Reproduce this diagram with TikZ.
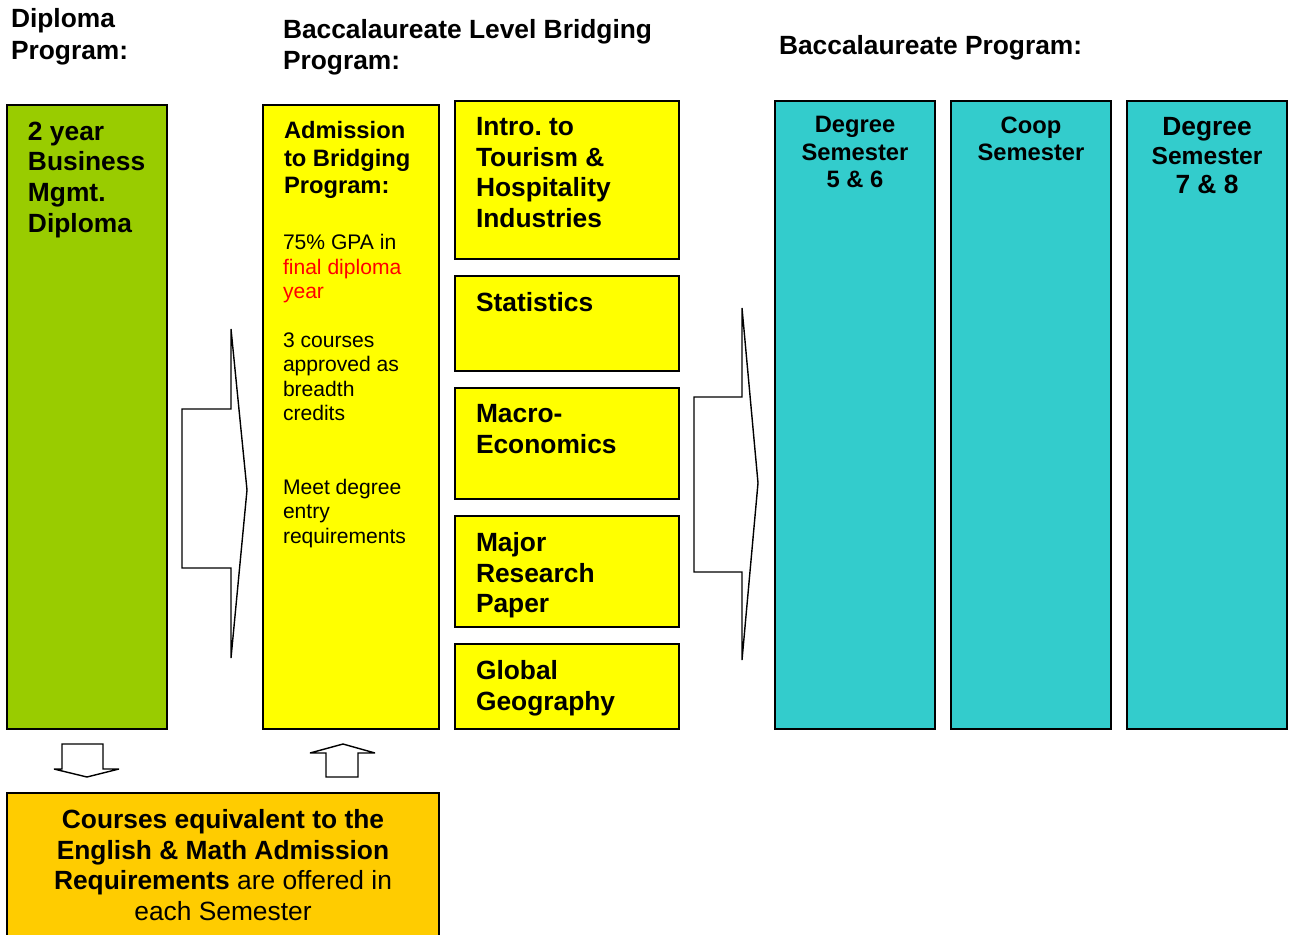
\documentclass[tikz,border=0pt]{standalone}
\usepackage{fontspec}
\setmainfont{Liberation Sans}
\usepackage{xcolor}
\usepackage{tikz}
\usetikzlibrary{positioning}

\definecolor{diplomagreen}{HTML}{99CC00}
\definecolor{bridgeyellow}{HTML}{FFFF00}
\definecolor{degreeteal}{HTML}{33CCCC}
\definecolor{courseorange}{HTML}{FFCC00}

\newcommand{\bigbf}{\fontsize{15}{17.4}\selectfont\bfseries}
\newcommand{\midbf}{\fontsize{13.5}{15.6}\selectfont\bfseries}
\newcommand{\bodytxt}{\fontsize{12}{13.9}\selectfont}

\begin{document}
\begin{tikzpicture}[x=0.02cm,y=-0.02cm]
\tikzstyle{box}=[draw=black,line width=0.8pt,inner sep=0pt,outer sep=0pt,anchor=north west]
\tikzstyle{txt}=[inner sep=0pt,outer sep=0pt,anchor=north west,align=left]
\tikzstyle{ctxt}=[inner sep=0pt,outer sep=0pt,anchor=north,align=center]
\tikzstyle{blockarrow}=[draw=black,line width=0.8pt,fill=white,line join=miter,miter limit=1.5]

\useasboundingbox (0,0) rectangle (1293,934);

\node[txt,font=\fontsize{15}{18.1}\selectfont\bfseries](hdiploma) at (11,8.5){Diploma\\Program:};
\node[txt,font=\bigbf](hbridge) at (283,19.5){Baccalaureate Level Bridging\\Program:};
\node[txt,font=\bigbf](hbacc) at (779,35.5){Baccalaureate Program:};

\node[box,fill=diplomagreen,minimum width=3.2cm,minimum height=12.48cm](diploma) at (7,105){};
\node[box,fill=bridgeyellow,minimum width=3.52cm,minimum height=12.48cm](admission) at (263,105){};
\node[box,fill=bridgeyellow,minimum width=4.48cm,minimum height=3.16cm](intro) at (455,101){};
\node[box,fill=bridgeyellow,minimum width=4.48cm,minimum height=1.9cm](stats) at (455,276){};
\node[box,fill=bridgeyellow,minimum width=4.48cm,minimum height=2.22cm](macro) at (455,388){};
\node[box,fill=bridgeyellow,minimum width=4.48cm,minimum height=2.22cm](major) at (455,516){};
\node[box,fill=bridgeyellow,minimum width=4.48cm,minimum height=1.7cm](global) at (455,644){};
\node[box,fill=degreeteal,minimum width=3.2cm,minimum height=12.56cm](semfive) at (775,101){};
\node[box,fill=degreeteal,minimum width=3.2cm,minimum height=12.56cm](coop) at (951,101){};
\node[box,fill=degreeteal,minimum width=3.2cm,minimum height=12.56cm](semseven) at (1127,101){};
\node[box,fill=courseorange,minimum width=8.64cm,minimum height=3.1cm](courses) at (7,793){};

\node[txt,font=\bigbf](diplomatxt) at ([shift={(21,17)}]diploma.north west){2 year\\Business\\Mgmt.\\Diploma};
\node[txt,font=\midbf](admtitle) at ([shift={(21,16.5)}]admission.north west){Admission\\to Bridging\\Program:};
\node[txt,font=\bodytxt](admbody) at ([shift={(20,129.5)}]admission.north west){75\% GPA in\\\textcolor{red}{final diploma}\\\textcolor{red}{year}\\[13.9pt]3 courses\\approved as\\breadth\\credits\\[28pt]Meet degree\\entry\\requirements};

\node[txt,font=\bigbf](introtxt) at ([shift={(21,16.5)}]intro.north west){Intro.\ to\\Tourism \&\\Hospitality\\Industries};
\node[txt,font=\bigbf](statstxt) at ([shift={(21,16.5)}]stats.north west){Statistics};
\node[txt,font=\bigbf](macrotxt) at ([shift={(21,16.5)}]macro.north west){Macro-\\Economics};
\node[txt,font=\bigbf](majortxt) at ([shift={(21,16.5)}]major.north west){Major\\Research\\Paper};
\node[txt,font=\bigbf](globaltxt) at ([shift={(21,16.5)}]global.north west){Global\\Geography};

\node[ctxt,font=\midbf](semfivetxt) at ([shift={(0,15.5)}]semfive.north){Degree\\Semester\\5 \& 6};
\node[ctxt,font=\midbf](cooptxt) at ([shift={(0,15.5)}]coop.north){Coop\\Semester};
\node[ctxt,font=\fontsize{14.5}{16.7}\selectfont\bfseries](semseventxt) at ([shift={(0,16)}]semseven.north){{\fontsize{15}{16.7}\selectfont Degree}\\{\fontsize{14}{16.7}\selectfont Semester}\\{\fontsize{15}{16.7}\selectfont 7 \& 8}};

\node[ctxt,font=\fontsize{15}{17.4}\selectfont](coursestxt) at (223,809.5){\textbf{Courses equivalent to the}\\\textbf{English \& Math Admission}\\\textbf{Requirements} are offered in\\each Semester};

\draw[blockarrow] (182,409) -- (231,409) -- (231,329) -- (247,490) -- (231,658) -- (231,568) -- (182,568) -- cycle;
\draw[blockarrow] (694,397) -- (742,397) -- (742,308) -- (758,483) -- (742,660) -- (742,572) -- (694,572) -- cycle;
\draw[blockarrow] (62,744) -- (103,744) -- (103,769) -- (119,769) -- (87,777) -- (54,769) -- (62,769) -- cycle;
\draw[blockarrow] (326,777) -- (358,777) -- (358,753) -- (375,753) -- (343,744) -- (310,753) -- (326,753) -- cycle;
\end{tikzpicture}
\end{document}
